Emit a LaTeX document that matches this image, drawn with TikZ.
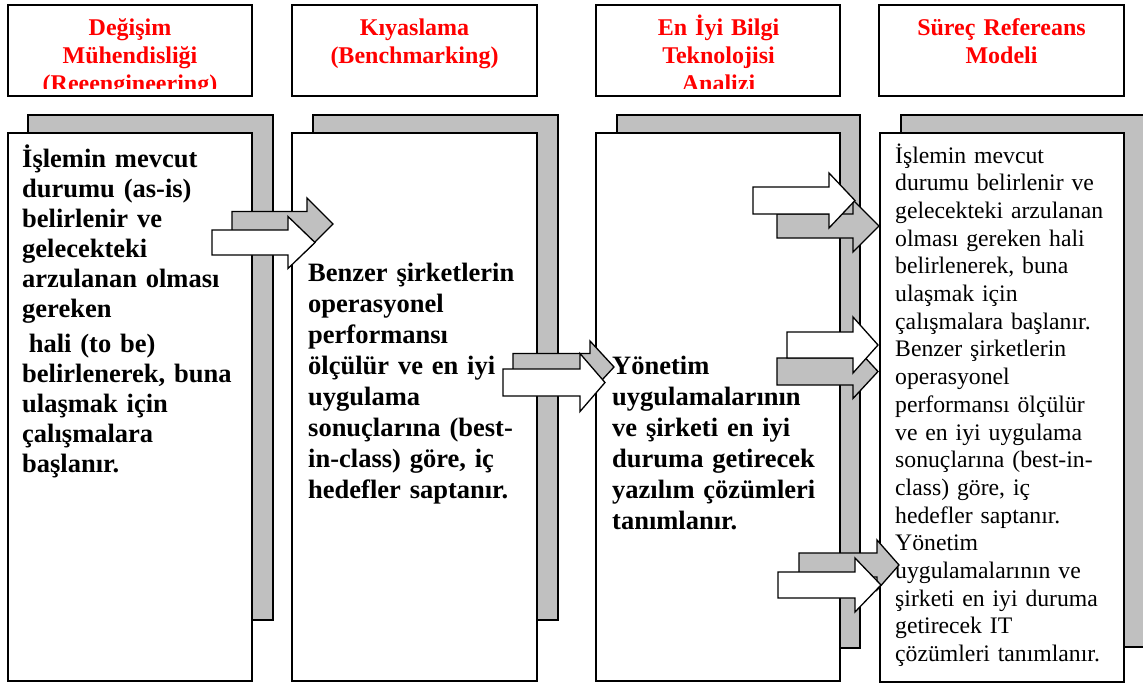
\documentclass[tikz,border=0pt]{standalone}
\usepackage{fontspec}
\setmainfont{Liberation Serif}
\definecolor{shade}{RGB}{192,192,192}
\definecolor{hdred}{RGB}{255,0,0}
\newcommand{\blkarrow}[7]{%
  \draw[arrowshape, fill=#1] (#2,#5-#6) -- (#3,#5-#6) -- (#3,#5-#7) -- (#4,#5)
    -- (#3,#5+#7) -- (#3,#5+#6) -- (#2,#5+#6) -- cycle;}
\begin{document}
\begin{tikzpicture}[x=1pt,y=-1pt,
  shadowbox/.style={draw=black,line width=1.3pt,fill=shade},
  frontbox/.style={draw=black,line width=1.3pt,fill=white},
  headbox/.style={draw=black,line width=1.6pt},
  headtext/.style={text=hdred,font=\fontsize{24}{28}\selectfont\bfseries,align=center,inner sep=0pt,anchor=base,text width=240pt},
  boldtext/.style={font=\fontsize{26.5}{31}\selectfont\bfseries,align=left,inner sep=0pt,anchor=base west,text width=250pt},
  plaintext/.style={font=\fontsize{23.7}{27.7}\selectfont,align=left,inner sep=0pt,anchor=base west,text width=260pt},
  arrowshape/.style={draw=black,line width=1.3pt,line join=miter}]
\fill[white] (0,0) rectangle (1143,686);
\useasboundingbox (0,0) rectangle (1143,686);

% header boxes
\begin{scope}
  \clip (9,6) rectangle (251,88.5);
  \node[headtext] (h1) at (130,35) {Değişim\\Mühendisliği\\(Reeengineering)};
\end{scope}
\draw[headbox] (8,5) rectangle (252,96);
\node[headtext] (h2) at (414.5,35) {Kıyaslama\\(Benchmarking)};
\draw[headbox] (292,5) rectangle (537,96);
\begin{scope}
  \clip (597,6) rectangle (839,88.5);
  \node[headtext] (h3) at (718.5,35) {En İyi Bilgi\\Teknolojisi\\Analizi};
\end{scope}
\draw[headbox] (596,5) rectangle (840,96);
\node[headtext] (h4) at (1001.5,35) {Süreç Refereans\\Modeli};
\draw[headbox] (879,5) rectangle (1124,96);

% shadows
\draw[shadowbox] (28,115) rectangle (273,620);
\draw[shadowbox] (313,115) rectangle (558,620);
\draw[shadowbox] (617,115) rectangle (860,648);
\draw[shadowbox] (901,115) rectangle (1150,647);

% front boxes
\draw[frontbox] (8,133) rectangle (252,681);
\draw[frontbox] (292,133) rectangle (537,681);
\draw[frontbox] (596,133) rectangle (840,681);
\draw[frontbox] (880,133) rectangle (1124,682);

% texts
\node[boldtext,font=\fontsize{26.5}{30}\selectfont\bfseries] (t1) at (22,167) {İşlemin mevcut\\durumu (as-is)\\belirlenir ve\\gelecekteki\\arzulanan olması\\gereken\\[5pt]\hspace*{0.25em}hali (to be)\\belirlenerek, buna\\ulaşmak için\\çalışmalara\\başlanır.};
\node[boldtext] (t2) at (308,281) {Benzer şirketlerin\\operasyonel\\performansı\\ölçülür ve en iyi\\uygulama\\sonuçlarına (best-\\in-class) göre, iç\\hedefler saptanır.};
\node[boldtext] (t3) at (612,374) {Yönetim\\uygulamalarının\\ve şirketi en iyi\\duruma getirecek\\yazılım çözümleri\\tanımlanır.};
\node[plaintext] (t4) at (895,163) {İşlemin mevcut\\durumu belirlenir ve\\gelecekteki arzulanan\\olması gereken hali\\belirlenerek, buna\\ulaşmak için\\çalışmalara başlanır.\\Benzer şirketlerin\\operasyonel\\performansı ölçülür\\ve en iyi uygulama\\sonuçlarına (best-in-\\class) göre, iç\\hedefler saptanır.\\Yönetim\\uygulamalarının ve\\şirketi en iyi duruma\\getirecek IT\\çözümleri tanımlanır.};

% arrows
\blkarrow{shade}{232}{307}{333}{224}{12.5}{26}
\blkarrow{white}{212}{288}{315}{242.5}{12.5}{26}
\blkarrow{shade}{513}{590}{614}{367}{13.5}{26}
\blkarrow{white}{503}{580}{605}{382.5}{13.5}{29}
\blkarrow{shade}{777}{853}{879}{226}{12}{26}
\blkarrow{white}{753}{829}{855}{200.5}{13.5}{27.5}
\blkarrow{shade}{777}{853}{878}{371.5}{13.5}{27}
\blkarrow{white}{787}{853}{878}{345}{13}{28}
\blkarrow{shade}{799}{877}{899}{565}{12}{25}
\blkarrow{white}{778}{855}{881}{585}{13}{27}
\end{tikzpicture}
\end{document}
